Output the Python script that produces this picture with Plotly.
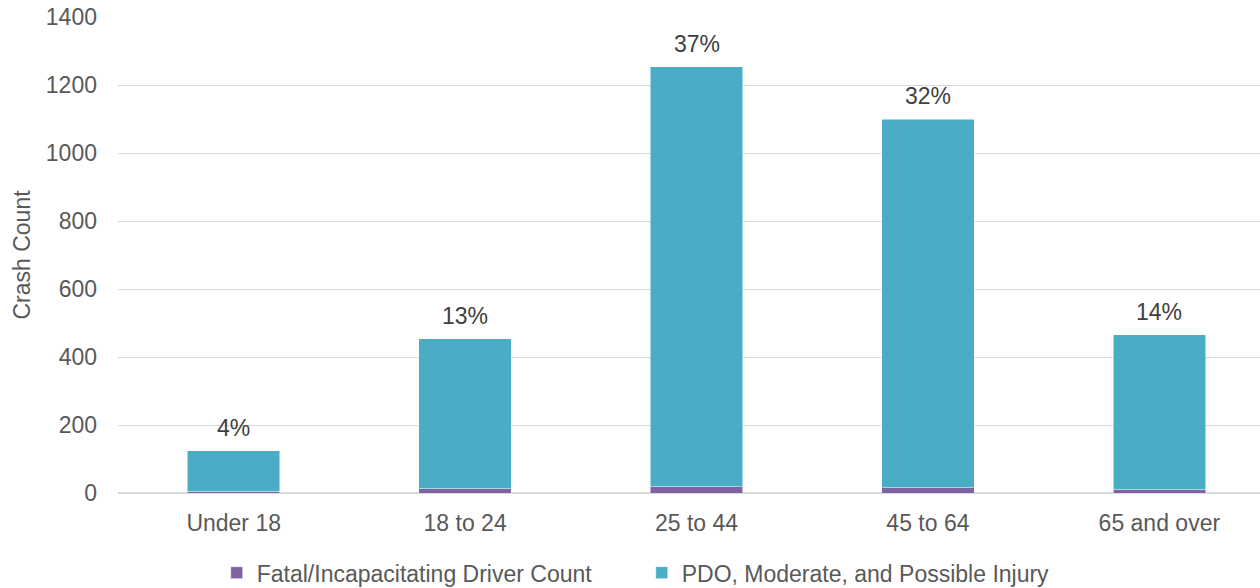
import plotly.graph_objects as go

categories = ["Under 18", "18 to 24", "25 to 44", "45 to 64", "65 and over"]
fatal = [3, 12, 18, 16, 10]
totals = [124, 453, 1253, 1100, 465]
pdo = [t - f for t, f in zip(totals, fatal)]
pct_labels = ["4%", "13%", "37%", "32%", "14%"]

FONT = "Liberation Sans, Arial, sans-serif"
GREY = "#595959"
FS = 23

fig = go.Figure()
fig.add_trace(go.Bar(x=categories, y=fatal, name="Fatal/Incapacitating Driver Count",
                     marker=dict(color="#8064A2", line=dict(color="white", width=0.5)), width=0.4))
fig.add_trace(go.Bar(x=categories, y=pdo, name="PDO, Moderate, and Possible Injury",
                     marker=dict(color="#4BACC6", line=dict(color="white", width=0.5)), width=0.4))

for c, t, lab in zip(categories, totals, pct_labels):
    fig.add_annotation(x=c, y=t, text=lab, showarrow=False, yanchor="bottom", yshift=8,
                       font=dict(family=FONT, size=FS, color="#404040"))

fig.update_layout(
    barmode="stack",
    width=1260, height=588,
    margin=dict(l=118, r=0, t=17, b=95),
    plot_bgcolor="white", paper_bgcolor="white",
    font=dict(family=FONT, size=FS, color=GREY),
    legend=dict(orientation="h", xref="container", x=0.172, xanchor="left",
                yref="container", y=0.026, yanchor="middle",
                font=dict(family=FONT, size=FS, color=GREY), itemwidth=30,
                traceorder="normal", entrywidth=380, entrywidthmode="pixels"),
    xaxis=dict(range=[-0.5, 4.435], showgrid=False, showline=False, ticks="",
               ticklabelstandoff=14,
               tickfont=dict(family=FONT, size=FS, color=GREY)),
    yaxis=dict(range=[0, 1400], dtick=200, showgrid=True, gridcolor="#d9d9d9", gridwidth=1,
               zeroline=True, zerolinecolor="#d9d9d9", zerolinewidth=2,
               tickfont=dict(family=FONT, size=FS, color=GREY), ticklabelstandoff=20,
               title=dict(text="Crash Count", font=dict(family=FONT, size=FS, color=GREY), standoff=8)),
)

fig.write_html("out.html")
